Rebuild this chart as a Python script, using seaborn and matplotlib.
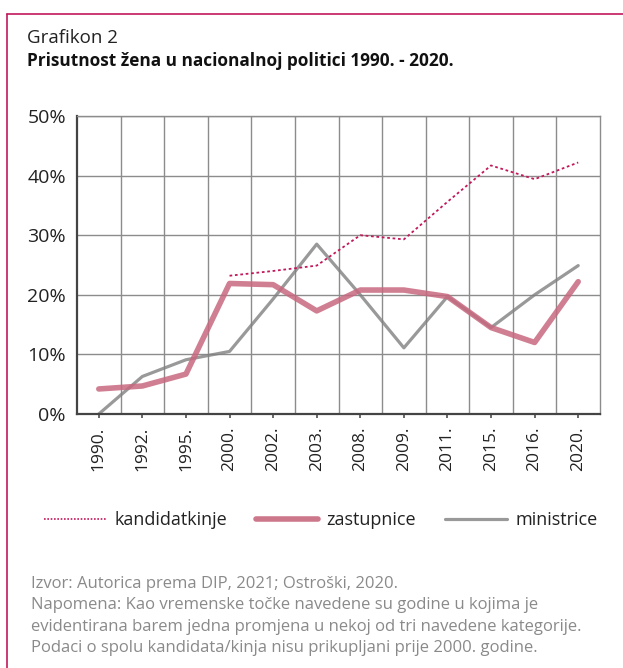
import matplotlib
matplotlib.use("Agg")
import matplotlib.pyplot as plt
import numpy as np
import pandas as pd
import seaborn as sns
from matplotlib.lines import Line2D
from matplotlib.ticker import FixedLocator, PercentFormatter

# podaci očitani s grafikona (%)
godine = ["1990.", "1992.", "1995.", "2000.", "2002.", "2003.", "2008.", "2009.", "2011.", "2015.", "2016.", "2020."]
kandidatkinje = [np.nan, np.nan, np.nan, 23.2, 24.0, 24.9, 30.0, 29.3, 35.6, 41.7, 39.4, 42.2]
zastupnice = [4.2, 4.7, 6.7, 21.9, 21.7, 17.3, 20.8, 20.8, 19.7, 14.5, 12.0, 22.2]
ministrice = [0.0, 6.3, 9.1, 10.5, 19.3, 28.5, 20.0, 11.1, 19.7, 14.5, 20.0, 24.9]

df = pd.DataFrame({"godina": godine, "kandidatkinje": kandidatkinje,
                   "zastupnice": zastupnice, "ministrice": ministrice})

sns.set_theme(style="white")
plt.rcParams["font.family"] = ["Open Sans", "DejaVu Sans"]

fig = plt.figure(figsize=(6.23, 6.68), dpi=100)
ax = fig.add_axes([77 / 623, 1 - 414 / 668, 523 / 623, 298 / 668])

c_kand = "#c2185b"
c_zast = "#c8687f"
c_min = "#808080"

sns.lineplot(data=df, x="godina", y="ministrice", ax=ax, color=c_min, lw=2.3, alpha=0.8, sort=False)
sns.lineplot(data=df, x="godina", y="zastupnice", ax=ax, color=c_zast, lw=4, alpha=0.85, sort=False)
sns.lineplot(data=df, x="godina", y="kandidatkinje", ax=ax, color=c_kand, lw=1.3,
             linestyle=(0, (1.5, 1.5)), sort=False)

ax.set_xlim(-0.5, len(godine) - 0.5)
ax.set_ylim(0, 50)
ax.set_yticks([0, 10, 20, 30, 40, 50])
ax.yaxis.set_major_formatter(PercentFormatter(decimals=0))
ax.xaxis.set_minor_locator(FixedLocator(np.arange(0.5, len(godine) - 1, 1)))
ax.grid(False)
ax.grid(True, which="minor", axis="x", color="#8c8c8c", lw=1)
ax.grid(True, which="major", axis="y", color="#8c8c8c", lw=1)
ax.set_xlabel("")
ax.set_ylabel("")
ax.tick_params(axis="x", which="major", labelrotation=90, labelsize=12.5, length=3,
               color="#555555", bottom=True, pad=6, labelcolor="#222222")
ax.tick_params(axis="x", which="minor", length=0)
ax.tick_params(axis="y", labelsize=14, length=0, pad=8, labelcolor="#222222")
for s in ["top", "right"]:
    ax.spines[s].set_color("#8c8c8c")
    ax.spines[s].set_linewidth(1)
for s in ["left", "bottom"]:
    ax.spines[s].set_color("#444444")
    ax.spines[s].set_linewidth(1.6)

# legenda
handles = [
    Line2D([], [], color=c_kand, lw=1.2, linestyle=(0, (1, 1))),
    Line2D([], [], color=c_zast, lw=4, alpha=0.9),
    Line2D([], [], color=c_min, lw=2.3, alpha=0.8),
]
fig.legend(handles, ["kandidatkinje", "zastupnice", "ministrice"], ncol=3,
           loc="center", bbox_to_anchor=(321 / 623, 1 - 520 / 668), frameon=False,
           fontsize=13, handlelength=3.4, columnspacing=1.6, handletextpad=0.5,
           labelcolor="#222222")

# naslovi
fig.text(27 / 623, 1 - 38 / 668, "Grafikon 2", fontsize=13.5, color="#222222", va="center")
fig.text(27 / 623, 1 - 61 / 668, "Prisutnost žena u nacionalnoj politici 1990. - 2020.",
         fontsize=12.4, fontweight="bold", color="#111111", va="center")

# izvor i napomena
napomena = ("Izvor: Autorica prema DIP, 2021; Ostroški, 2020.\n"
            "Napomena: Kao vremenske točke navedene su godine u kojima je\n"
            "evidentirana barem jedna promjena u nekoj od tri navedene kategorije.\n"
            "Podaci o spolu kandidata/kinja nisu prikupljani prije 2000. godine.")
fig.text(31 / 623, 1 - 576 / 668, napomena, fontsize=12, color="#8a8a8a",
         va="top", linespacing=1.45)

# okvir
fig.add_artist(Line2D([7 / 623, 7 / 623], [0, 1 - 14 / 668], color="#c2185b", lw=1.2))
fig.add_artist(Line2D([7 / 623, 1], [1 - 14 / 668, 1 - 14 / 668], color="#c2185b", lw=1.2))

fig.savefig("out.png", dpi=100)
